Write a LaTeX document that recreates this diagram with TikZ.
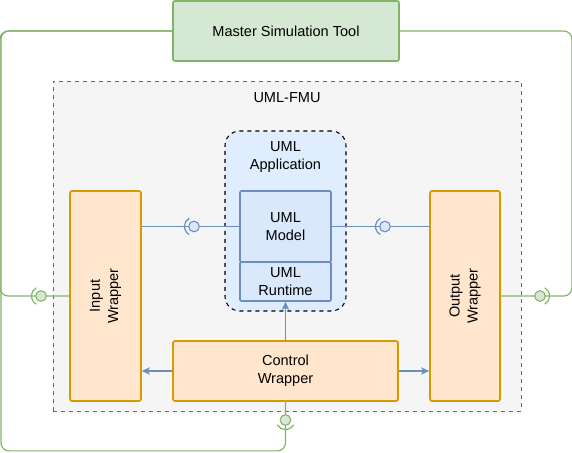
\documentclass[tikz,border=0pt]{standalone}
\usepackage{fontspec}
\setmainfont{Liberation Sans}
\usetikzlibrary{arrows.meta,positioning}

\definecolor{greenStroke}{RGB}{130,179,102}
\definecolor{greenFill}{RGB}{213,232,212}
\definecolor{blueStroke}{RGB}{108,142,191}
\definecolor{blueFill}{RGB}{218,232,252}
\definecolor{appFill}{RGB}{224,237,254}
\definecolor{orangeStroke}{RGB}{215,155,0}
\definecolor{orangeFill}{RGB}{255,230,204}
\definecolor{fmuFill}{RGB}{245,245,245}
\definecolor{fmuStroke}{RGB}{102,102,102}

\tikzset{every picture/.style={line width=0.75pt}}
\tikzset{
	txt/.style={font=\fontsize{10.9}{13.6}\selectfont, align=center, inner sep=0pt},
	greenbox/.style={draw=greenStroke, fill=greenFill, line width=1.3pt, rounded corners=1.5pt, txt},
	wrapbox/.style={draw=orangeStroke, fill=orangeFill, line width=1.3pt, rounded corners=1.5pt, txt},
	umlbox/.style={draw=blueStroke, fill=blueFill, line width=1.2pt, rounded corners=1pt, txt},
	greenline/.style={draw=greenStroke, line width=0.9pt, rounded corners=6pt},
	blueline/.style={draw=blueStroke, line width=0.9pt},
	bluearrow/.style={blueline, -{Stealth[length=6pt,width=5.5pt,inset=1.5pt]}},
	ball/.style={circle, inner sep=0pt, minimum size=8pt, line width=0.8pt}
}

\begin{document}
\begin{tikzpicture}[x=0.75pt,y=0.75pt,yscale=-1,xscale=1]
	\useasboundingbox (0,0) rectangle (572,453);

	%Shape: Rectangle [UML-FMU container]
	\node [draw=fmuStroke, fill=fmuFill, dashed, line width=0.7pt, minimum width=351pt, minimum height=247.5pt] (fmu) at (287,246) {};
	% Text Node
	\node [txt] (fmuLabel) at (287,98) {UML-FMU};

	%Shape: Rectangle [master]
	\node [greenbox, minimum width=169.5pt, minimum height=45pt] (master) at (286,31) {Master Simulation Tool};

	%Shape: Rounded Rectangle [application]
	\node [draw=black, fill=appFill, dashed, line width=0.8pt, rounded corners=11pt, minimum width=90.75pt, minimum height=135pt] (app) at (285.5,221) {};
	% Text Node
	\node [txt] (appLabel) at (285.5,157) {UML\\Application};

	%Shape: Rectangle [model and runtime]
	\node [umlbox, minimum width=68.25pt, minimum height=53.25pt] (model) at (285.5,226.5) {UML\\Model};
	\node [umlbox, minimum width=68.25pt, minimum height=29.25pt] (runtime) at (285.5,281.5) {UML\\Runtime};

	%Shape: Rectangle [wrappers]
	\node [wrapbox, minimum width=53.25pt, minimum height=157.5pt] (input) at (105.5,296) {};
	\node [wrapbox, minimum width=52.5pt, minimum height=157.5pt] (output) at (465,296) {};
	\node [wrapbox, minimum width=168.75pt, minimum height=45pt] (control) at (285.5,371) {Control\\Wrapper};
	% Text Node
	\node [txt, rotate=90] (inputLabel) at (input.center) {Input\\Wrapper};
	% Text Node
	\node [txt, rotate=90] (outputLabel) at (output.center) {Output\\Wrapper};

	%Blue interfaces
	\draw [blueline] (input.east |- model.west) -- (model.west);
	\node [ball, draw=blueStroke, fill=blueFill] (inBall) at (194,226.5) {};
	\draw [blueline] ([shift={(120:9.5)}]inBall.center) arc (120:240:9.5);
	\draw [blueline] (model.east) -- (model.east -| output.west);
	\node [ball, draw=blueStroke, fill=blueFill] (outBall) at (385,226.5) {};
	\draw [blueline] ([shift={(120:9.5)}]outBall.center) arc (120:240:9.5);

	%Blue arrows
	\draw [bluearrow] (control.north) -- (runtime.south);
	\draw [bluearrow] (control.west) -- (control.west -| input.east);
	\draw [bluearrow] (control.east) -- (control.east -| output.west);

	%Green links
	\draw [greenline] (control.south) -- ++(0,49) -- ++(-284.5,0) |- (master.west);
	\draw [greenline] (master.west) -- ++(-172,0) |- (input.west);
	\draw [greenline] (master.east) -- ++(172,0) |- (output.east);
	\node [ball, draw=greenStroke, fill=greenFill] (leftBall) at (41,296) {};
	\draw [greenline] ([shift={(120:9.5)}]leftBall.center) arc (120:240:9.5);
	\node [ball, draw=greenStroke, fill=greenFill] (rightBall) at (540,296) {};
	\draw [greenline] ([shift={(-60:9.5)}]rightBall.center) arc (-60:60:9.5);
	\node [ball, draw=greenStroke, fill=greenFill] (bottomBall) at (285.5,420) {};
	\draw [greenline] ([shift={(30:9.5)}]bottomBall.center) arc (30:150:9.5);

\end{tikzpicture}
\end{document}
